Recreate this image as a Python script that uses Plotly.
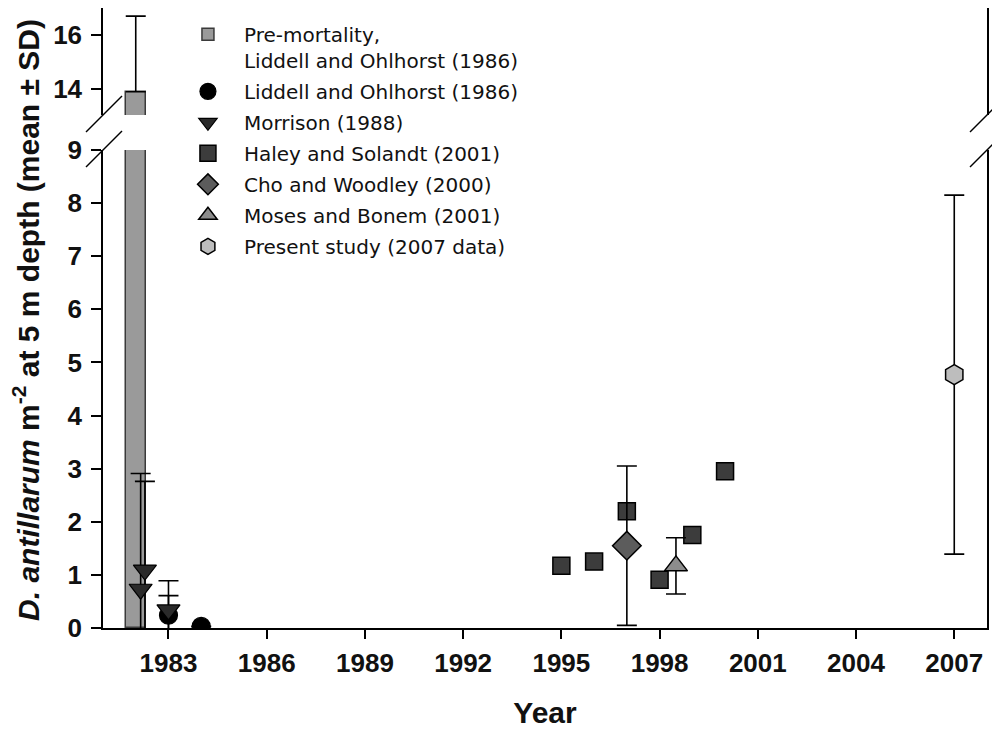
import plotly.graph_objects as go

# ---- data ----
premort_year = [1982]
premort_mean = [13.9]
premort_sd = [2.8]

liddell_year = [1983, 1984]
liddell_mean = [0.24, 0.03]
liddell_sd = [0.37, None]

morrison_year = [1982.15, 1982.28, 1983]
morrison_mean = [0.73, 1.09, 0.34]
morrison_sd = [2.18, 1.67, 0.55]

haley_year = [1995, 1996, 1997, 1998, 1999, 2000]
haley_mean = [1.17, 1.25, 2.20, 0.91, 1.75, 2.95]

cho_year = [1997]
cho_mean = [1.55]
cho_sd = [1.5]

moses_year = [1998.5]
moses_mean = [1.17]
moses_sd = [0.53]

present_year = [2007]
present_mean = [4.77]
present_sd = [3.38]

x_ticks = [1983, 1986, 1989, 1992, 1995, 1998, 2001, 2004, 2007]
lower_ticks = [0, 1, 2, 3, 4, 5, 6, 7, 8, 9]
upper_ticks = [14, 16]

FONT = "Arial, Liberation Sans, sans-serif"
LEG_FONT = "DejaVu Sans, Arial, sans-serif"
LOW_TOP = 0.7710
UP_BOT = 0.8274


def eb(arr):
    return dict(type="data", array=arr, color="black", thickness=1.6, width=10, visible=True)


fig = go.Figure()

fig.add_trace(go.Bar(
    x=premort_year, y=premort_mean, width=0.6,
    marker=dict(color="#9a9a9a", line=dict(color="#3a3a3a", width=1.5)),
    name="Pre-mortality,<br>Liddell and Ohlhorst (1986)",
    legendgroup="g1", xaxis="x", yaxis="y"))
fig.add_trace(go.Bar(
    x=premort_year, y=premort_mean, width=0.6,
    marker=dict(color="#9a9a9a", line=dict(color="#3a3a3a", width=1.5)),
    error_y=dict(type="data", symmetric=False, array=premort_sd, arrayminus=[0],
                 color="black", thickness=1.6, width=10),
    showlegend=False, legendgroup="g1", xaxis="x2", yaxis="y2"))

fig.add_trace(go.Scatter(
    x=liddell_year, y=liddell_mean, mode="markers", error_y=eb(liddell_sd),
    marker=dict(symbol="circle", size=18, color="#000000", line=dict(color="#000000", width=1.2)),
    name="Liddell and Ohlhorst (1986)", legendgroup="g2"))

fig.add_trace(go.Scatter(
    x=morrison_year, y=morrison_mean, mode="markers", error_y=eb(morrison_sd),
    marker=dict(symbol="triangle-down", size=20, color="#2a2a2a", line=dict(color="#000000", width=1.2)),
    name="Morrison (1988)", legendgroup="g3"))

fig.add_trace(go.Scatter(
    x=haley_year, y=haley_mean, mode="markers",
    marker=dict(symbol="square", size=17, color="#3c3c3c", line=dict(color="#000000", width=1.5)),
    name="Haley and Solandt (2001)", legendgroup="g4"))

fig.add_trace(go.Scatter(
    x=cho_year, y=cho_mean, mode="markers", error_y=eb(cho_sd),
    marker=dict(symbol="diamond", size=22, color="#5c5c5c", line=dict(color="#000000", width=1.5)),
    name="Cho and Woodley (2000)", legendgroup="g5"))

fig.add_trace(go.Scatter(
    x=moses_year, y=moses_mean, mode="markers", error_y=eb(moses_sd),
    marker=dict(symbol="triangle-up", size=20, color="#8c8c8c", line=dict(color="#000000", width=1.5)),
    name="Moses and Bonem (2001)", legendgroup="g6"))

fig.add_trace(go.Scatter(
    x=present_year, y=present_mean, mode="markers", error_y=eb(present_sd),
    marker=dict(symbol="hexagon", size=20, color="#bdbdbd", line=dict(color="#000000", width=1.5)),
    name="Present study (2007 data)", legendgroup="g7"))

axis_common = dict(showgrid=False, zeroline=False, showline=True, linecolor="black", linewidth=1.5,
                   tickcolor="black", tickwidth=1.5, automargin=False,
                   tickfont=dict(family=FONT, size=26, color="#111111", weight="bold"))

# the page body adds an 8px offset, so the figure is 992x721 with margins shifted accordingly
fig.update_layout(
    width=992, height=721,
    margin=dict(l=95, r=13, t=0, b=101, autoexpand=False),
    paper_bgcolor="white", plot_bgcolor="white",
    font=dict(family=FONT, color="#111111"),
    showlegend=True,
    legend=dict(x=0.078, y=0.989, xanchor="left", yanchor="top",
                font=dict(family=LEG_FONT, size=20, color="#111111"),
                bgcolor="rgba(0,0,0,0)", tracegroupgap=2, valign="top",
                traceorder="grouped", itemwidth=62),
    xaxis=dict(domain=[0, 1], range=[1981, 2008], tickmode="array", tickvals=x_ticks,
               ticks="outside", ticklen=9, anchor="y", ticklabelstandoff=2,
               title=dict(text="<b>Year</b>", font=dict(family=FONT, size=30, color="#111111"), standoff=26),
               **axis_common),
    xaxis2=dict(domain=[0, 1], matches="x", anchor="y2", side="top", showticklabels=False,
                ticks="", showgrid=False, zeroline=False, showline=True, linecolor="black",
                linewidth=1.5, automargin=False),
    yaxis=dict(domain=[0, LOW_TOP], range=[0, 9], tickmode="array", tickvals=lower_ticks,
               ticks="outside", ticklen=10, anchor="x", mirror=True, ticklabelstandoff=4, **axis_common),
    yaxis2=dict(domain=[UP_BOT, 1], range=[13.04, 17], tickmode="array", tickvals=upper_ticks,
                ticks="outside", ticklen=10, anchor="x2", mirror=True, ticklabelstandoff=4, **axis_common),
    bargap=0,
)

# axis-break slashes
for xa in (0, 1):
    for ya in (LOW_TOP, UP_BOT):
        fig.add_shape(type="line", xref="paper", yref="paper", xsizemode="pixel", ysizemode="pixel",
                      xanchor=xa, yanchor=ya, x0=-17, x1=19, y0=-17, y1=19,
                      line=dict(color="black", width=1.5), layer="above")

fig.add_annotation(
    text="<b><i>D. antillarum</i> m<sup>-2</sup> at 5 m depth (mean ± SD)</b>",
    xref="paper", yref="paper", x=-0.087, y=0.497, xanchor="center", yanchor="middle",
    textangle=-90, showarrow=False, font=dict(family=FONT, size=30, color="#111111"))

fig.write_html("out.html")
